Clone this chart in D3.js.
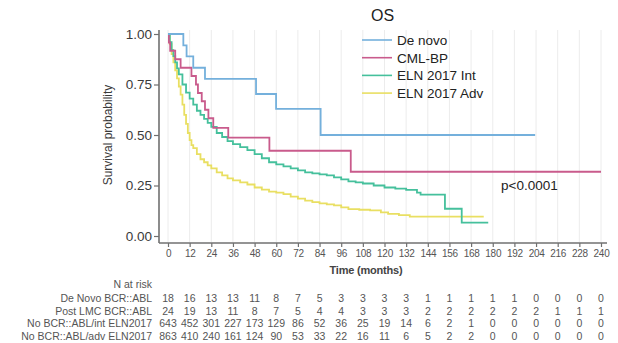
<!DOCTYPE html>
<html><head><meta charset="utf-8">
<script src="https://cdn.jsdelivr.net/npm/d3@7/dist/d3.min.js"></script>
<style>
body{margin:0;background:#fff;}
svg{display:block;font-family:"Liberation Sans",Arial,sans-serif;}
</style></head>
<body><div id="chart"></div>
<script>
// ---- data ----
const seriesNames = ["De novo","CML-BP","ELN 2017 Int","ELN 2017 Adv"];
const seriesColors = ["#74b0dc","#c95b8c","#45c09c","#e9df62"];
const xTicks = [0,12,24,36,48,60,72,84,96,108,120,132,144,156,168,180,192,204,216,228,240];
const yTicks = [0,0.25,0.5,0.75,1];

const deNovoT = [0,8.5,10.3,14,20.5,48.8,59.9,84.6,203.5];
const deNovoS = [1,0.944,0.889,0.833,0.778,0.703,0.629,0.5,0.5];

const cmlT = [0,0.5,1.2,4,7,13,15.5,16.6,18.7,20.5,22.4,25.1,33.4,56.2,101.3,240];
const cmlS = [1,0.958,0.917,0.875,0.833,0.792,0.75,0.708,0.667,0.625,0.583,0.535,0.487,0.422,0.318,0.318];

const intT = [0,1,2,3,4,5,6,8,10,12,14,16,18,20,22,24,27,30,33,36,40,44,48,52,56,60,64,68,72,76,80,84,88,92,96,100,104,108,114,120,126,132,138,140,153.5,162.8,177.5];
const intS = [1,0.96,0.92,0.89,0.86,0.83,0.80,0.75,0.71,0.68,0.65,0.62,0.60,0.58,0.56,0.54,0.51,0.49,0.47,0.455,0.44,0.425,0.405,0.385,0.365,0.355,0.345,0.335,0.325,0.315,0.31,0.305,0.30,0.29,0.28,0.27,0.265,0.26,0.25,0.24,0.235,0.228,0.215,0.205,0.135,0.066,0.066];

const advT = [0,1,2,3,4,5,6,7,8,9,10,11,12,13,14,16,18,20,22,24,27,30,33,36,40,44,48,52,56,60,64,68,72,76,80,84,88,92,96,100,106,112,118,122,128,134,175];
const advS = [1,0.95,0.90,0.86,0.82,0.78,0.74,0.70,0.65,0.60,0.555,0.51,0.475,0.45,0.435,0.405,0.38,0.365,0.35,0.335,0.315,0.30,0.285,0.275,0.265,0.255,0.24,0.23,0.22,0.215,0.207,0.195,0.185,0.175,0.168,0.162,0.157,0.152,0.142,0.133,0.13,0.127,0.117,0.11,0.103,0.096,0.096];

const riskLabels = ["De Novo BCR::ABL","Post LMC BCR::ABL","No BCR::ABL/int ELN2017","No BCR::ABL/adv ELN2017"];
const riskDeNovo = [18,16,13,13,11,8,7,5,3,3,3,3,1,1,1,1,1,0,0,0,0];
const riskPost   = [24,19,13,11,8,7,5,4,4,3,3,3,2,2,2,2,2,2,1,1,1];
const riskInt    = [643,452,301,227,173,129,86,52,36,25,19,14,6,2,1,0,0,0,0,0,0];
const riskAdv    = [863,410,240,161,124,90,53,33,22,16,11,6,5,2,2,0,0,0,0,0,0];

// ---- chart ----
const W=618,H=343;
const svg=d3.select("#chart").append("svg").attr("width",W).attr("height",H);
const x=d3.scaleLinear().domain([0,240]).range([168,601]);
const y=d3.scaleLinear().domain([0,1]).range([236,34]);
const axisCol="#707070", textCol="#3a3a3a";

// grid
svg.append("g").selectAll("line").data(xTicks).join("line")
  .attr("x1",d=>x(d)).attr("x2",d=>x(d)).attr("y1",30).attr("y2",242)
  .attr("stroke","#ececec").attr("stroke-width",1);

// axes
const yAx=svg.append("g").attr("transform","translate(159,0)")
  .call(d3.axisLeft(y).tickValues(yTicks).tickFormat(d3.format(".2f")).tickSize(5).tickPadding(2));
yAx.select(".domain").attr("d","M0,30V243");
const xAx=svg.append("g").attr("transform","translate(0,243)")
  .call(d3.axisBottom(x).tickValues(xTicks).tickSize(4).tickPadding(3));
xAx.select(".domain").attr("d","M159,0H607");
[yAx,xAx].forEach(a=>{
  a.selectAll(".domain").attr("stroke",axisCol).attr("stroke-width",1.6);
  a.selectAll(".tick line").attr("stroke",axisCol).attr("stroke-width",1.2);
});
yAx.selectAll("text").attr("font-size",13.5).attr("fill",textCol).attr("font-family","Liberation Sans, Arial");
xAx.selectAll("text").attr("font-size",10).attr("fill","#555").attr("letter-spacing",-0.3);

svg.append("text").attr("transform","translate(112,135) rotate(-90)")
  .attr("text-anchor","middle").attr("font-size",12).attr("fill",textCol).text("Survival probability");
svg.append("text").attr("x",366).attr("y",274).attr("text-anchor","middle")
  .attr("font-size",11).attr("font-weight","bold").attr("fill","#444").attr("letter-spacing",-0.2).text("Time (months)");

// curves
const allT=[deNovoT,cmlT,intT,advT], allS=[deNovoS,cmlS,intS,advS];
const line=d3.line().x(d=>x(d[0])).y(d=>y(d[1])).curve(d3.curveStepAfter);
[3,2,1,0].forEach(i=>{
  const pts=allT[i].map((t,j)=>[t,allS[i][j]]);
  svg.append("path").attr("d",line(pts)).attr("fill","none")
    .attr("stroke",seriesColors[i]).attr("stroke-width",1.8);
});

// legend
svg.append("text").attr("x",371).attr("y",21).attr("font-size",16).attr("fill","#222").text("OS");
seriesNames.forEach((n,i)=>{
  const yy=40+17.7*i;
  svg.append("line").attr("x1",362).attr("x2",392).attr("y1",yy).attr("y2",yy)
    .attr("stroke",seriesColors[i]).attr("stroke-width",1.6);
  svg.append("text").attr("x",397).attr("y",yy+5).attr("font-size",13.5).attr("fill","#222").text(n);
});

svg.append("text").attr("x",501).attr("y",190).attr("font-size",13.5).attr("fill","#222").text("p<0.0001");

// risk table
svg.append("text").attr("x",152).attr("y",288).attr("text-anchor","end").attr("font-size",10.5).attr("fill","#555").text("N at risk");
const riskRows=[riskDeNovo,riskPost,riskInt,riskAdv];
riskRows.forEach((row,i)=>{
  const yy=302+12.5*i;
  svg.append("text").attr("x",152).attr("y",yy).attr("text-anchor","end").attr("font-size",10.5).attr("fill","#555").text(riskLabels[i]);
  svg.append("g").selectAll("text").data(row).join("text")
    .attr("x",(d,j)=>x(xTicks[j])).attr("y",yy).attr("text-anchor","middle")
    .attr("font-size",10.5).attr("fill","#555").text(d=>d);
});
</script></body></html>
